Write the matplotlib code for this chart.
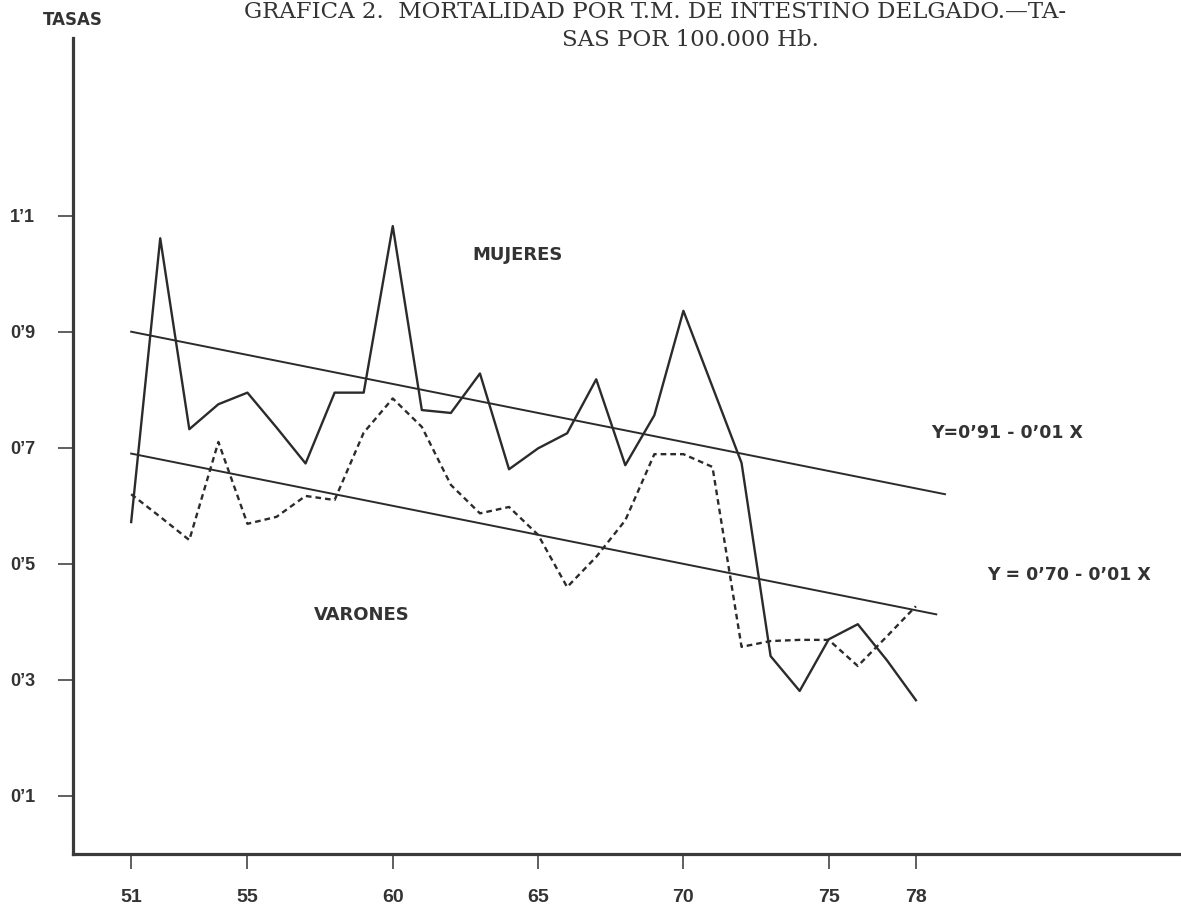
import matplotlib
matplotlib.use("Agg")
import matplotlib.pyplot as plt
from matplotlib import font_manager

# Data (rates per 100.000 inhabitants)
years = list(range(51, 79))
mujeres = [0.572, 1.061, 0.732, 0.775, 0.795, 0.735, 0.673, 0.795, 0.795, 1.082,
           0.765, 0.760, 0.828, 0.663, 0.699, 0.725, 0.818, 0.670, 0.756, 0.936,
           0.805, 0.674, 0.341, 0.281, 0.370, 0.396, 0.334, 0.265]
varones = [0.620, 0.581, 0.541, 0.710, 0.569, 0.581, 0.617, 0.610, 0.726, 0.785,
           0.736, 0.636, 0.587, 0.598, 0.550, 0.460, 0.512, 0.575, 0.689, 0.689,
           0.667, 0.357, 0.367, 0.369, 0.369, 0.324, 0.375, 0.427]

# regression lines Y = a - b X, with X = year - 50
reg_muj = (0.91, 0.01)
reg_var = (0.70, 0.01)
reg_muj_x = [1, 29]
reg_var_x = [1, 28.7]

xticks = [51, 55, 60, 65, 70, 75, 78]
yticks = [0.1, 0.3, 0.5, 0.7, 0.9, 1.1]
ytick_labels = ["0\u20191", "0\u20193", "0\u20195", "0\u20197", "0\u20199", "1\u20191"]

names = {f.name for f in font_manager.fontManager.ttflist}
cond = "Liberation Sans Narrow" if "Liberation Sans Narrow" in names else "DejaVu Sans"

ink = "#2b2b2b"

fig = plt.figure(figsize=(11.81, 9.10), dpi=100)
ax = fig.add_axes([0.0616, 0.0615, 0.9384, 0.8967])

ax.plot(years, mujeres, color=ink, lw=1.7)
ax.plot(years, varones, color=ink, lw=1.7, ls=(0, (2.4, 1.7)))

for (a, b), xs in [(reg_muj, reg_muj_x), (reg_var, reg_var_x)]:
    yrs = [50 + x for x in xs]
    ax.plot(yrs, [a - b * x for x in xs], color=ink, lw=1.4)

ax.set_xlim(48.99, 87.12)
ax.set_ylim(0, 1.406)

ax.spines["top"].set_visible(False)
ax.spines["right"].set_visible(False)
for side in ["left", "bottom"]:
    ax.spines[side].set_linewidth(2.3)
    ax.spines[side].set_color("#3a3a3a")

ax.set_xticks(xticks)
ax.set_xticklabels([str(t) for t in xticks], fontfamily="Liberation Sans",
                   fontweight="bold", fontsize=14)
ax.set_yticks(yticks)
ax.set_yticklabels(ytick_labels, fontfamily="Liberation Sans",
                   fontweight="bold", fontsize=13)
ax.tick_params(axis="x", length=11, width=1.2, pad=14, colors="#444444")
ax.tick_params(axis="y", length=11, width=1.2, pad=16, colors="#444444")
for lab in ax.get_xticklabels() + ax.get_yticklabels():
    lab.set_color("#333333")

ax.text(64.28, 1.032, "MUJERES", family=cond, fontweight="bold", fontsize=13,
        ha="center", va="center", color="#333333")
ax.text(58.95, 0.412, "VARONES", family=cond, fontweight="bold", fontsize=13,
        ha="center", va="center", color="#333333")
ax.text(81.13, 0.725, "Y=0\u201991 - 0\u201901 X", family=cond, fontweight="bold",
        fontsize=12.5, ha="center", va="center", color="#333333")
ax.text(83.27, 0.481, "Y = 0\u201970 - 0\u201901 X", family=cond, fontweight="bold",
        fontsize=12.5, ha="center", va="center", color="#333333")

fig.text(73 / 1181, 1 - 20 / 910, "TASAS", family=cond, fontweight="bold",
         fontsize=12, ha="center", va="center", color="#333333")
fig.text(655 / 1181, 1 - 1 / 910,
         "GRAFICA 2.  MORTALIDAD POR T.M. DE INTESTINO DELGADO.\u2014TA-",
         family="DejaVu Serif", fontsize=16.5, ha="center", va="top", color="#333333")
fig.text(690 / 1181, 1 - 40 / 910, "SAS POR 100.000 Hb.",
         family="DejaVu Serif", fontsize=16.5, ha="center", va="center", color="#333333")

fig.savefig("out.png", dpi=100)
